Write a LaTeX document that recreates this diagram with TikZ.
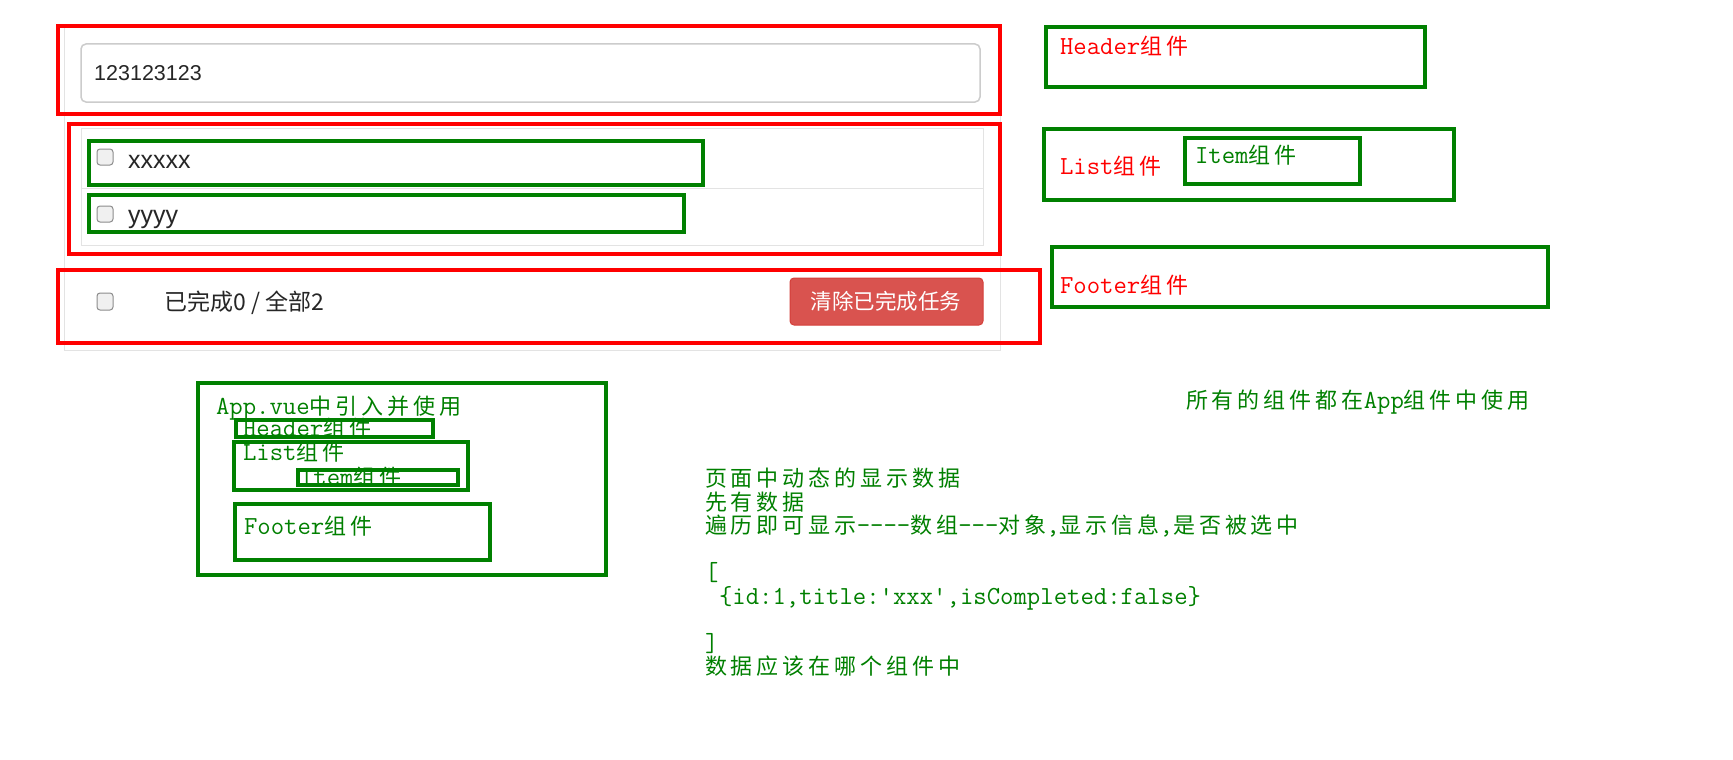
\documentclass[tikz,border=0pt]{standalone}
\usepackage{fontspec}
\setsansfont{Liberation Sans}
\newfontfamily\cjk[LetterSpace=18]{Noto Sans CJK SC}
\newfontfamily\cjkui{Noto Sans CJK SC}
\definecolor{gr}{HTML}{008000}
\definecolor{rd}{HTML}{FF0000}
\definecolor{btnfill}{HTML}{D9534F}
\definecolor{btnline}{HTML}{D43F3A}
\definecolor{panelline}{HTML}{E3E3E3}
\definecolor{inputline}{HTML}{CCCCCC}
\newcommand\zh[1]{{\fontsize{22}{23.5}\cjk #1}}
\tikzset{
  redbox/.style={draw=rd, line width=4pt},
  greenbox/.style={draw=gr, line width=4pt},
  lbl/.style={font=\ttfamily\fontsize{26}{23.5}\selectfont, anchor=base west, inner sep=0pt, outer sep=0pt},
  uitext/.style={font=\sffamily\fontsize{25}{28}\selectfont, anchor=base west, inner sep=0pt, text=black!85},
  chk/.style={draw=black!45, fill=black!6, line width=1pt, rounded corners=3pt},
}
\begin{document}
\begin{tikzpicture}[x=1pt,y=-1pt]
\useasboundingbox[fill=white] (0,0) rectangle (1733,760);

% ---- web UI ----
\draw[panelline, line width=1pt] (64,28) rectangle (1000,350);
\draw[inputline, line width=1.5pt, rounded corners=5pt, fill=white] (81,44) rectangle (980,102);
\node[uitext, font=\sffamily\fontsize{21.5}{24}\selectfont] (inp) at (94,81) {123123123};
\draw[panelline, line width=1pt] (81,128) rectangle (983,245);
\draw[panelline, line width=1pt] (81,188) -- (983,188);
\draw[chk] (97,149) rectangle (113,165);
\draw[chk] (97,206) rectangle (113,222);
\draw[chk] (97,293) rectangle (113,310);
\node[uitext] (it1) at (128,168) {xxxxx};
\node[uitext] (it2) at (128,223) {yyyy};
\node[uitext, font=\cjkui\fontsize{23}{26}\selectfont] (stat) at (164,310) {已完成0 / 全部2};
\draw[btnline, fill=btnfill, line width=1pt, rounded corners=4pt] (790,278) rectangle (983,325);
\node[inner sep=0pt, text=white, font=\cjkui\fontsize{21.5}{24}\selectfont] (btn) at (886,301) {清除已完成任务};

% ---- red component boxes ----
\draw[redbox] (58,26) rectangle (1000,114);
\draw[redbox] (69,124) rectangle (1000,254);
\draw[redbox] (58,270) rectangle (1040,343);

% ---- green item boxes ----
\draw[greenbox] (89,141) rectangle (703,185);
\draw[greenbox] (89,195) rectangle (684,232);

% ---- right legend ----
\draw[greenbox] (1046,27) rectangle (1425,87);
\node[lbl, text=rd] (lh) at (1060,55) {Header\zh{组件}};
\draw[greenbox] (1044,129) rectangle (1454,200);
\node[lbl, text=rd] (ll) at (1060,174) {List\zh{组件}};
\draw[greenbox] (1185,138) rectangle (1360,184);
\node[lbl, text=gr] (li) at (1195,163) {Item\zh{组件}};
\draw[greenbox] (1052,247) rectangle (1548,307);
\node[lbl, text=rd] (lf) at (1060,293) {Footer\zh{组件}};

% ---- App box ----
\node[lbl, text=gr] (app) at (216,414) {App.vue\zh{中引入并使用}};
\node[lbl, text=gr] (ah) at (243,436) {Header\zh{组件}};
\node[lbl, text=gr] (al) at (243,460) {List\zh{组件}};
\node[lbl, text=gr] (ai) at (300,485) {Item\zh{组件}};
\node[lbl, text=gr] (af) at (244,534) {Footer\zh{组件}};
\draw[greenbox] (198,383) rectangle (606,575);
\draw[greenbox] (236,420) rectangle (433,437);
\draw[greenbox] (234,442) rectangle (468,490);
\draw[greenbox] (298,470) rectangle (458,485);
\draw[greenbox] (235,504) rectangle (490,560);

% ---- notes ----
\node[lbl, text=gr] (all) at (1186,408) {\zh{所有的组件都在}App\zh{组件中使用}};
\node[lbl, text=gr] (n1) at (705,486.5) {\zh{页面中动态的显示数据}};
\node[lbl, text=gr] (n2) at (705,510) {\zh{先有数据}};
\node[lbl, text=gr] (n3) at (705,533.5) {\zh{遍历即可显示}----\zh{数组}---\zh{对象},\zh{显示信息},\zh{是否被选中}};
\node[lbl, text=gr] (n4) at (705,580.5) {[};
\node[lbl, text=gr] (n5) at (719,604) {\{id:1,title:'xxx',isCompleted:false\}};
\node[lbl, text=gr] (n6) at (705,651) {]};
\node[lbl, text=gr] (n7) at (705,674.5) {\zh{数据应该在哪个组件中}};
\end{tikzpicture}
\end{document}
